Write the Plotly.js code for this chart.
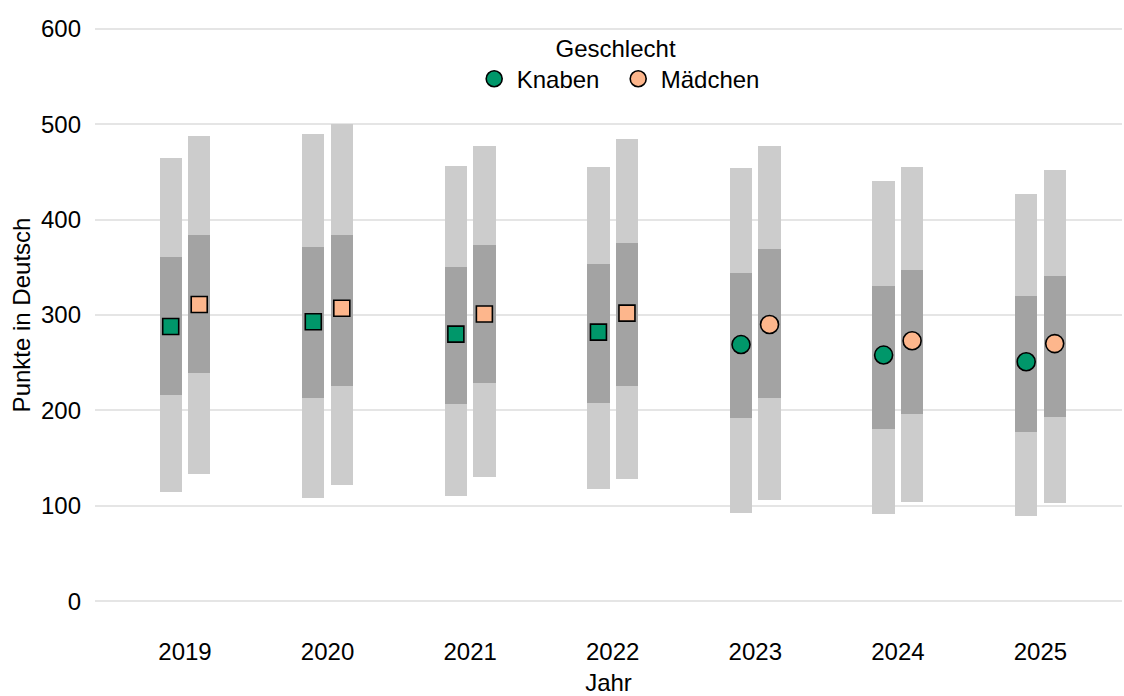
<!DOCTYPE html>
<html>
<head>
<meta charset="utf-8">
<script src="https://cdn.plot.ly/plotly-3.0.1.min.js"></script>
<style>html,body{margin:0;padding:0;background:#fff;}#chart{width:1124px;height:696px;}</style>
</head>
<body>
<div id="chart"></div>
<script>
var years = ['2019', '2020', '2021', '2022', '2023', '2024', '2025'];
var symbols = ['square', 'square', 'square', 'square', 'circle', 'circle', 'circle'];

var knabenP5   = [114, 108, 110, 118, 92, 91, 89];
var knabenP25  = [216, 213, 207, 208, 192, 180, 177];
var knabenMean = [288, 293, 280, 282, 269, 258, 251];
var knabenP75  = [361, 371, 350, 353, 344, 330, 320];
var knabenP95  = [465, 490, 456, 455, 454, 440, 427];

var maedchenP5   = [133, 122, 130, 128, 106, 104, 103];
var maedchenP25  = [239, 226, 229, 226, 213, 196, 193];
var maedchenMean = [311, 307, 301, 302, 290, 273, 270];
var maedchenP75  = [384, 384, 373, 376, 369, 347, 341];
var maedchenP95  = [488, 500, 477, 484, 477, 455, 452];

var groups = [
  {name: 'Knaben', color: '#00976A', offset: -0.1, p5: knabenP5, p25: knabenP25, mean: knabenMean, p75: knabenP75, p95: knabenP95},
  {name: 'Mädchen', color: '#FDB68C', offset: 0.1, p5: maedchenP5, p25: maedchenP25, mean: maedchenMean, p75: maedchenP75, p95: maedchenP95}
];

var idx = years.map(function(_, i){ return i; });
var BW = 0.157;
var traces = [];

groups.forEach(function(g){
  var xs = idx.map(function(i){ return i + g.offset; });
  traces.push({
    type: 'bar', x: xs, base: g.p5,
    y: g.p95.map(function(v, i){ return v - g.p5[i]; }),
    width: BW, marker: {color: '#CCCCCC', opacity: 1, line: {width: 0}},
    showlegend: false, hoverinfo: 'skip'
  });
});
groups.forEach(function(g){
  var xs = idx.map(function(i){ return i + g.offset; });
  traces.push({
    type: 'bar', x: xs, base: g.p25,
    y: g.p75.map(function(v, i){ return v - g.p25[i]; }),
    width: BW, marker: {color: '#A3A3A3', opacity: 1, line: {width: 0}},
    showlegend: false, hoverinfo: 'skip'
  });
});
groups.forEach(function(g){
  var xs = idx.map(function(i){ return i + g.offset; });
  traces.push({
    type: 'scatter', mode: 'markers', x: xs, y: g.mean, opacity: 1,
    marker: {
      color: g.color, opacity: 1,
      symbol: symbols,
      size: symbols.map(function(s){ return s === 'square' ? 16 : 18; }),
      line: {color: '#000000', width: 1.6}
    },
    showlegend: false, name: g.name
  });
});
groups.forEach(function(g){
  traces.push({
    type: 'scatter', mode: 'markers', x: [null], y: [null], name: g.name, opacity: 1,
    marker: {color: g.color, opacity: 1, symbol: 'circle', size: 18, line: {color: '#000000', width: 1.6}},
    showlegend: true
  });
});

var FONT = '"Liberation Sans", Arial, Helvetica, sans-serif';
var FS = 24;

var layout = {
  width: 1124, height: 696,
  margin: {l: 95, r: 2, t: 4.5, b: 71, pad: 0},
  paper_bgcolor: '#ffffff', plot_bgcolor: '#ffffff',
  font: {family: FONT, size: FS, color: '#000000'},
  barmode: 'overlay',
  bargap: 0,
  xaxis: {
    range: [-0.631, 6.572],
    tickmode: 'array', tickvals: idx, ticktext: years,
    showgrid: false, zeroline: false, showline: false, ticks: '',
    tickfont: {size: FS, color: '#000000'},
    ticklabelstandoff: 10,
    title: {text: 'Jahr', font: {size: FS, color: '#000000'}, standoff: 13},
    automargin: false
  },
  yaxis: {
    range: [-25, 625],
    tickmode: 'array', tickvals: [0, 100, 200, 300, 400, 500, 600],
    showgrid: true, gridcolor: '#E5E5E5', gridwidth: 2,
    zeroline: false, showline: false, ticks: '',
    tickfont: {size: FS, color: '#000000'},
    ticklabelstandoff: 13,
    title: {text: 'Punkte in Deutsch', font: {size: FS, color: '#000000'}, standoff: 3},
    automargin: false
  },
  legend: {
    orientation: 'h',
    x: 0.507, xanchor: 'center',
    y: 0.967, yanchor: 'top',
    bgcolor: 'rgba(0,0,0,0)',
    font: {size: FS, color: '#000000'},
    title: {text: 'Geschlecht', side: 'top center', font: {size: FS, color: '#000000'}},
    itemwidth: 35,
    entrywidth: 94,
    entrywidthmode: 'pixels',
    tracegroupgap: 0
  },
  showlegend: true
};

Plotly.newPlot('chart', traces, layout, {displayModeBar: false, staticPlot: true});
</script>
</body>
</html>
